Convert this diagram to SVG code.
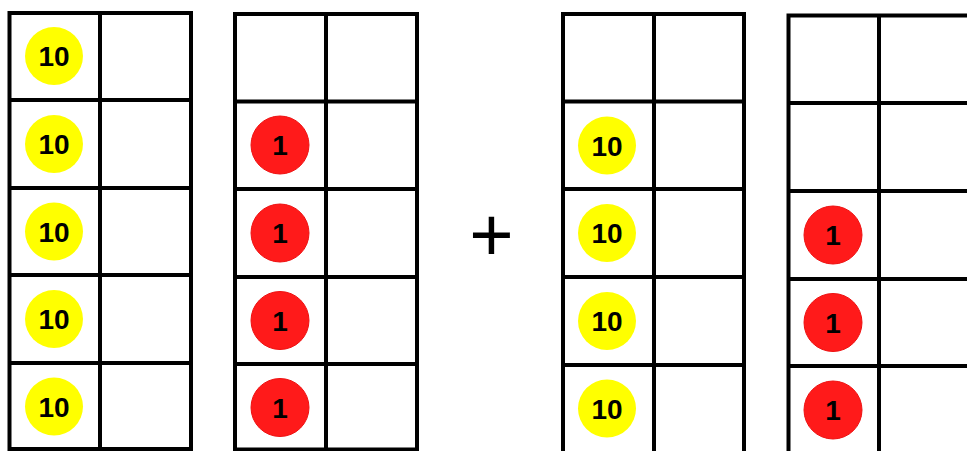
<svg xmlns="http://www.w3.org/2000/svg" width="967" height="451" viewBox="0 0 967 451">
<style>
.g{fill:none;stroke:#000;stroke-width:4;stroke-linecap:square}
.ten{fill:#ffff00}
.one{fill:#ff1a1a;stroke:#ee1111;stroke-width:1}
.t{font-family:"Liberation Sans",Arial,sans-serif;font-weight:bold;font-size:28px;text-anchor:middle;fill:#000}
.plus{font-family:"Liberation Sans",Arial,sans-serif;font-size:76px;text-anchor:middle;fill:#000}
</style>
<rect width="967" height="451" fill="#fff"/>
<g id="frame1">
<path class="g" d="M9.5 13H191V449H9.5Z M100 13V449 M9.5 100H191 M9.5 188H191 M9.5 275H191 M9.5 363H191"/>
<g id="f1-c1"><circle class="ten" cx="54" cy="56" r="29"/><text class="t" x="54" y="66">10</text></g>
<g id="f1-c2"><circle class="ten" cx="54" cy="144" r="29"/><text class="t" x="54" y="154">10</text></g>
<g id="f1-c3"><circle class="ten" cx="54" cy="231.5" r="29"/><text class="t" x="54" y="241.5">10</text></g>
<g id="f1-c4"><circle class="ten" cx="54" cy="319" r="29"/><text class="t" x="54" y="329">10</text></g>
<g id="f1-c5"><circle class="ten" cx="54" cy="406.5" r="29"/><text class="t" x="54" y="416.5">10</text></g>
</g>
<g id="frame2">
<path class="g" d="M235 14H417V449.5H235Z M326 14V449.5 M235 101.5H417 M235 189H417 M235 277H417 M235 364H417"/>
<g id="f2-c1"><circle class="one" cx="280" cy="145" r="29"/><text class="t" x="280" y="155">1</text></g>
<g id="f2-c2"><circle class="one" cx="280" cy="233" r="29"/><text class="t" x="280" y="243">1</text></g>
<g id="f2-c3"><circle class="one" cx="280" cy="320.5" r="29"/><text class="t" x="280" y="330.5">1</text></g>
<g id="f2-c4"><circle class="one" cx="280" cy="407.5" r="29"/><text class="t" x="280" y="417.5">1</text></g>
</g>
<g id="plus"><text class="plus" x="491.5" y="261">+</text></g>
<g id="frame3">
<path class="g" d="M563 14H744V455H563Z M654 14V455 M563 101.5H744 M563 189H744 M563 277H744 M563 365H744"/>
<g id="f3-c1"><circle class="ten" cx="607" cy="145.5" r="29"/><text class="t" x="607" y="155.5">10</text></g>
<g id="f3-c2"><circle class="ten" cx="607" cy="233" r="29"/><text class="t" x="607" y="243">10</text></g>
<g id="f3-c3"><circle class="ten" cx="607" cy="321" r="29"/><text class="t" x="607" y="331">10</text></g>
<g id="f3-c4"><circle class="ten" cx="607" cy="408.5" r="29"/><text class="t" x="607" y="418.5">10</text></g>
</g>
<g id="frame4">
<path class="g" d="M788.5 15.5H972V455H788.5Z M879 15.5V455 M788.5 103H972 M788.5 191H972 M788.5 279H972 M788.5 366H972"/>
<g id="f4-c1"><circle class="one" cx="833" cy="235" r="29"/><text class="t" x="833" y="245">1</text></g>
<g id="f4-c2"><circle class="one" cx="833" cy="322.5" r="29"/><text class="t" x="833" y="332.5">1</text></g>
<g id="f4-c3"><circle class="one" cx="833" cy="410" r="29"/><text class="t" x="833" y="420">1</text></g>
</g>
<g id="connectors"/>
</svg>
